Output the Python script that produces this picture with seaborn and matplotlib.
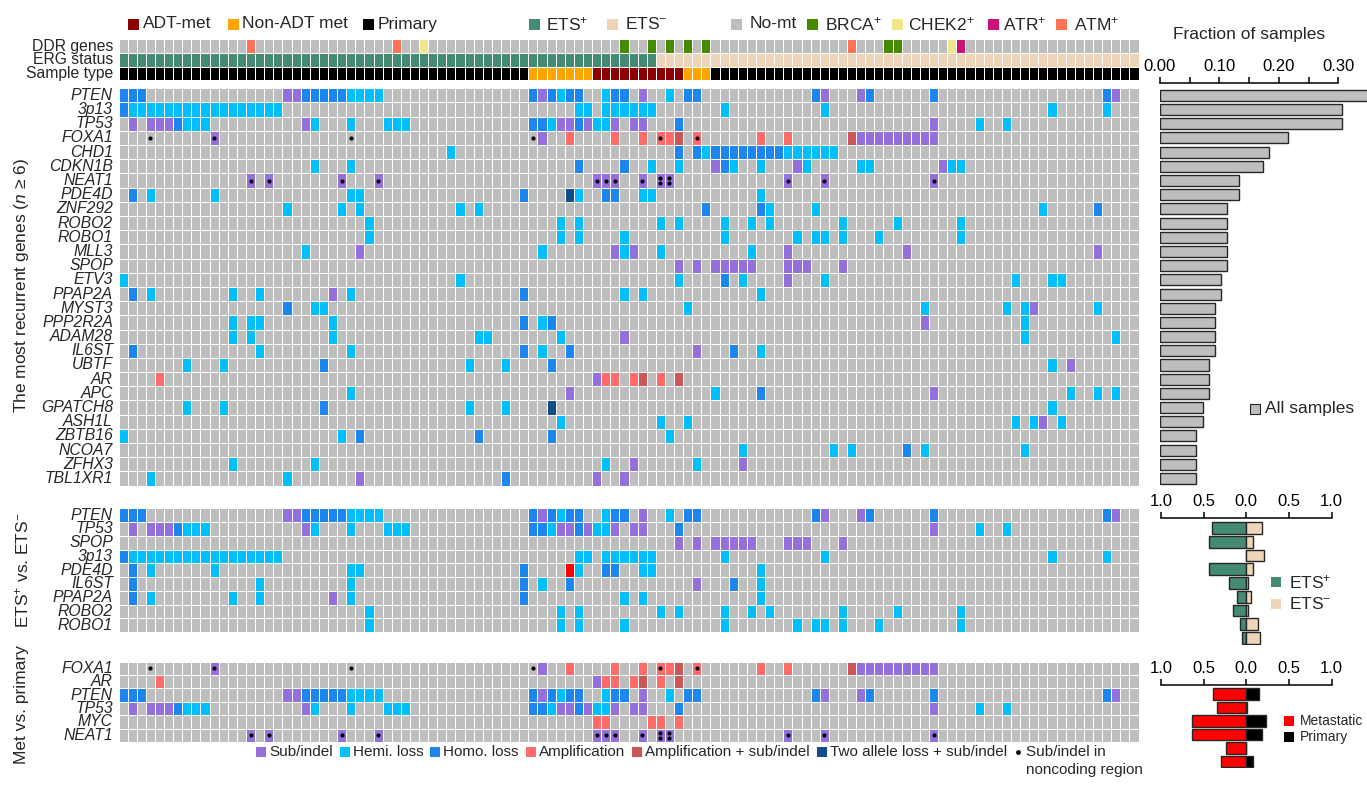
import numpy as np
import pandas as pd
import matplotlib
matplotlib.use("Agg")
import matplotlib.pyplot as plt
from matplotlib.colors import ListedColormap
from matplotlib.patches import Rectangle
import seaborn as sns

sns.set_style("white")
plt.rcParams["font.family"] = ["Liberation Sans", "DejaVu Sans"]
plt.rcParams["mathtext.fontset"] = "custom"
plt.rcParams["mathtext.rm"] = "Liberation Sans"
plt.rcParams["mathtext.it"] = "Liberation Sans:italic"
plt.rcParams["mathtext.bf"] = "Liberation Sans:bold"

N_SAMPLES = 112

# ---------------------------------------------------------------- data
genes = ["PTEN", "3p13", "TP53", "FOXA1", "CHD1", "CDKN1B", "NEAT1", "PDE4D",
         "ZNF292", "ROBO2", "ROBO1", "MLL3", "SPOP", "ETV3", "PPAP2A", "MYST3",
         "PPP2R2A", "ADAM28", "IL6ST", "UBTF", "AR", "APC", "GPATCH8", "ASH1L",
         "ZBTB16", "NCOA7", "ZFHX3", "TBL1XR1"]

# sample columns carrying each alteration type, per gene
sub_indel = {
    "PTEN": [18, 19, 46, 57, 77, 81, 109],
    "TP53": [1, 3, 4, 5, 20, 48, 49, 51, 54, 56, 57, 89],
    "FOXA1": [10, 46, 81, 82, 83, 84, 85, 86, 87, 88, 89],
    "CDKN1B": [65, 74, 90],
    "NEAT1": [14, 16, 24, 28, 52, 53, 54, 57, 59, 60, 73, 77, 89],
    "MLL3": [26, 54, 56, 73, 86, 107],
    "SPOP": [61, 63, 65, 66, 67, 68, 69, 73, 74, 75, 79],
    "ETV3": [73],
    "PPAP2A": [23],
    "MYST3": [100],
    "PPP2R2A": [88],
    "ADAM28": [55],
    "IL6ST": [63],
    "UBTF": [104],
    "AR": [52],
    "APC": [49, 89],
    "ASH1L": [101],
    "ZFHX3": [56, 68],
    "TBL1XR1": [26, 52, 55],
}
hemi_loss = {
    "PTEN": [25, 26, 27, 28, 48, 53, 60],
    "3p13": [1, 2, 3, 4, 5, 6, 7, 8, 9, 10, 11, 12, 13, 14, 15, 16, 17,
             50, 51, 53, 54, 55, 56, 57, 58, 66, 77, 102, 108],
    "TP53": [7, 8, 9, 21, 25, 29, 30, 31, 47, 52, 53, 94, 97],
    "CHD1": [36, 64, 73, 74, 75, 76, 77, 78],
    "CDKN1B": [21, 25, 58, 61, 67, 70, 75, 81, 82, 91, 92],
    "PDE4D": [3, 10, 25, 26, 50, 57, 58, 70],
    "ZNF292": [18, 24, 26, 37, 39, 71, 76, 101],
    "ROBO2": [27, 48, 50, 59, 61, 66, 69, 71, 79, 85, 92],
    "ROBO1": [27, 48, 50, 55, 66, 74, 76, 77, 79, 83, 92],
    "MLL3": [20, 46, 55, 59, 69],
    "ETV3": [0, 37, 61, 68, 77, 98, 102, 103],
    "PPAP2A": [3, 12, 15, 25, 55, 57, 70],
    "MYST3": [21, 22, 62, 88, 97, 99, 107],
    "PPP2R2A": [12, 14, 15, 23, 46, 99],
    "ADAM28": [12, 14, 23, 39, 40, 48, 99, 109],
    "IL6ST": [15, 25, 46, 70],
    "UBTF": [7, 11, 38, 42, 102],
    "APC": [25, 65, 104, 107, 109],
    "GPATCH8": [7, 11, 38, 42, 102],
    "ASH1L": [48, 59, 62, 98, 100, 103],
    "ZBTB16": [0, 24, 60],
    "NCOA7": [68, 78, 80, 88, 99],
    "ZFHX3": [12, 21, 53, 63],
    "TBL1XR1": [3, 18],
}
homo_loss = {
    "PTEN": [0, 1, 2, 20, 21, 22, 23, 24, 45, 47, 49, 50, 54, 55, 62, 63, 76, 82, 89, 108],
    "3p13": [0],
    "TP53": [6, 45, 46, 50, 61],
    "CHD1": [61, 63, 65, 66, 67, 68, 69, 70, 71, 72],
    "CDKN1B": [50, 55, 66],
    "PDE4D": [1, 44, 53, 54],
    "ZNF292": [64, 70, 107],
    "ETV3": [66],
    "PPAP2A": [1, 44],
    "MYST3": [18],
    "PPP2R2A": [44, 47],
    "IL6ST": [1, 44, 49, 67],
    "UBTF": [22, 47],
    "APC": [70],
    "GPATCH8": [22],
    "ZBTB16": [26, 39, 47],
    "NCOA7": [86],
    "TBL1XR1": [42],
}
amplification = {
    "FOXA1": [49, 54, 57, 59, 60, 63, 70, 73],
    "AR": [4, 53, 54, 56, 59],
    "MYC": [52, 53, 58, 59, 61],
}
amp_sub_indel = {"FOXA1": [61, 80], "AR": [57, 61]}
two_allele_loss = {"PDE4D": [49], "GPATCH8": [47]}
noncoding_single = {
    "FOXA1": [3, 10, 25, 45, 59, 63],
    "NEAT1": [14, 16, 24, 28, 52, 53, 54, 57, 73, 77, 89],
}
noncoding_double = {"NEAT1": [59, 60]}

# annotation tracks
ddr_brca = [55, 58, 60, 62, 64, 84, 85]
ddr_chek2 = [33, 91]
ddr_atr = [92]
ddr_atm = [14, 30, 80]
n_ets_positive = 59
sample_blocks = [("Primary", 45), ("Non-ADT met", 7), ("ADT-met", 10),
                 ("Non-ADT met", 3), ("Primary", 47)]

# comparison panels
ets_genes = ["PTEN", "TP53", "SPOP", "3p13", "PDE4D", "IL6ST", "PPAP2A", "ROBO2", "ROBO1"]
ets_highlight = {"PDE4D": [49]}
met_genes = ["FOXA1", "AR", "PTEN", "TP53", "MYC", "NEAT1"]

# fraction bars
frac_all = [0.35, 0.307, 0.307, 0.215, 0.184, 0.174, 0.133, 0.133, 0.113, 0.113,
            0.113, 0.113, 0.113, 0.102, 0.102, 0.092, 0.092, 0.092, 0.092, 0.082,
            0.082, 0.082, 0.072, 0.072, 0.061, 0.061, 0.061, 0.061]
frac_ets_pos = [0.405, 0.44, 0.0, 0.44, 0.203, 0.105, 0.152, 0.07, 0.051]
frac_ets_neg = [0.188, 0.075, 0.211, 0.075, 0.023, 0.059, 0.023, 0.133, 0.156]
frac_met = [0.394, 0.344, 0.637, 0.637, 0.238, 0.30]
frac_primary = [0.145, 0.01, 0.231, 0.188, 0.0, 0.08]

# ---------------------------------------------------------------- colours
palette = {
    "none": "#BEBEBE", "sub": "#9370DB", "hemi": "#00BFFF", "homo": "#1C86EE",
    "amp": "#FF6A6A", "amp_sub": "#CD5555", "two_allele": "#104E8B", "red": "#FF0000",
    "ets_pos": "#458B74", "ets_neg": "#EED5B7", "ADT-met": "#8B0000",
    "Non-ADT met": "#FFA500", "Primary": "#000000", "brca": "#458B00",
    "chek2": "#F0E68C", "atr": "#CD1076", "atm": "#FF7256",
}
keys = list(palette)
code = {k: i for i, k in enumerate(keys)}
cmap = ListedColormap([palette[k] for k in keys])

W, H = 1367, 794
fig = plt.figure(figsize=(W / 100, H / 100), dpi=100)


def px_axes(x0, y0, x1, y1):
    return fig.add_axes([x0 / W, 1 - y1 / H, (x1 - x0) / W, (y1 - y0) / H])


def alteration_matrix(rows, highlight=None):
    m = np.full((len(rows), N_SAMPLES), code["none"])
    for table, key in [(sub_indel, "sub"), (hemi_loss, "hemi"), (homo_loss, "homo"),
                       (amplification, "amp"), (amp_sub_indel, "amp_sub"),
                       (two_allele_loss, "two_allele")]:
        for g, cols in table.items():
            if g in rows:
                m[rows.index(g), cols] = code[key]
    if highlight:
        for g, cols in highlight.items():
            m[rows.index(g), cols] = code["red"]
    return pd.DataFrame(m, index=rows)


def draw_grid(ax, df, italic=True):
    sns.heatmap(df, ax=ax, cmap=cmap, vmin=-0.5, vmax=len(keys) - 0.5, cbar=False,
                linewidths=0.5, linecolor="white", xticklabels=False, yticklabels=True)
    ax.tick_params(axis="y", length=0, pad=4)
    for lab in ax.get_yticklabels():
        lab.set_rotation(0)
        lab.set_fontsize(11.3)
        lab.set_fontstyle("italic" if italic else "normal")
    ax.set_xlabel("")
    ax.set_ylabel("")


def draw_dots(ax, rows):
    for g, cols in noncoding_single.items():
        if g in rows:
            r = rows.index(g)
            ax.scatter(np.array(cols) + 0.5, np.full(len(cols), r + 0.5),
                       s=9, color="black", zorder=5, linewidths=0)
    for g, cols in noncoding_double.items():
        if g in rows:
            r = rows.index(g)
            for dy in (0.3, 0.7):
                ax.scatter(np.array(cols) + 0.5, np.full(len(cols), r + dy),
                           s=9, color="black", zorder=5, linewidths=0)


# ---------------------------------------------------------------- annotation tracks
ddr = np.full(N_SAMPLES, code["none"])
ddr[ddr_brca] = code["brca"]
ddr[ddr_chek2] = code["chek2"]
ddr[ddr_atr] = code["atr"]
ddr[ddr_atm] = code["atm"]
erg = np.array([code["ets_pos"]] * n_ets_positive +
               [code["ets_neg"]] * (N_SAMPLES - n_ets_positive))
stype = np.concatenate([[code[name]] * n for name, n in sample_blocks])
header = pd.DataFrame([ddr, erg, stype], index=["DDR genes", "ERG status", "Sample type"])

ax_head = px_axes(118.5, 39.3, 1138.5, 80.3)
draw_grid(ax_head, header, italic=False)

# ---------------------------------------------------------------- main matrix
ax_main = px_axes(118.5, 88.3, 1138.5, 485.6)
draw_grid(ax_main, alteration_matrix(genes))
draw_dots(ax_main, genes)

ax_ets = px_axes(118.5, 508.3, 1138.5, 632.1)
draw_grid(ax_ets, alteration_matrix(ets_genes, ets_highlight))

ax_met = px_axes(118.5, 661.7, 1138.5, 742.0)
draw_grid(ax_met, alteration_matrix(met_genes))
draw_dots(ax_met, met_genes)

# ---------------------------------------------------------------- fraction bars
EDGE = "#262626"


def style_bar_axis(ax, bound, ticks, labels, outward):
    for s in ("left", "right", "bottom"):
        ax.spines[s].set_visible(False)
    ax.spines["top"].set_visible(True)
    ax.spines["top"].set_bounds(*bound)
    ax.spines["top"].set_position(("outward", outward))
    ax.spines["top"].set_linewidth(1.1)
    ax.spines["top"].set_color("black")
    ax.xaxis.tick_top()
    ax.set_xticks(ticks)
    ax.set_xticklabels(labels)
    ax.tick_params(axis="x", direction="out", length=4.5, width=1.1, pad=2,
                   labelsize=12, colors="black")
    ax.set_yticks([])
    ax.set_xlabel("")
    ax.set_ylabel("")
    ax.patch.set_alpha(0)


ax_bar = px_axes(1160, 88.3, 1367, 485.6)
sns.barplot(x=frac_all, y=genes, order=genes, orient="h", color=palette["none"],
            saturation=1, edgecolor=EDGE, linewidth=1.0, width=0.78, ax=ax_bar)
ax_bar.set_xlim(0, 207 / 594)
ax_bar.set_ylim(len(genes) - 0.5, -0.5)
style_bar_axis(ax_bar, (0, 0.30), [0, 0.05, 0.10, 0.15, 0.20, 0.25, 0.30],
               ["0.00", "", "0.10", "", "0.20", "", "0.30"], 3.6)

x_lo, x_hi = (1150 - 1246.3) / 85.3, (1345 - 1246.3) / 85.3
div_ticks = [-1, -0.5, 0, 0.5, 1]
div_labels = ["1.0", "0.5", "0.0", "0.5", "1.0"]

ax_eb = px_axes(1150, 521.1, 1345, 644.9)
sns.barplot(x=-np.array(frac_ets_pos), y=ets_genes, order=ets_genes, orient="h",
            color=palette["ets_pos"], saturation=1, edgecolor=EDGE, linewidth=1.0,
            width=0.86, ax=ax_eb)
sns.barplot(x=frac_ets_neg, y=ets_genes, order=ets_genes, orient="h",
            color=palette["ets_neg"], saturation=1, edgecolor=EDGE, linewidth=1.0,
            width=0.86, ax=ax_eb)
ax_eb.set_xlim(x_lo, x_hi)
ax_eb.set_ylim(len(ets_genes) - 0.5, -0.5)
style_bar_axis(ax_eb, (-1, 1), div_ticks, div_labels, 2.2)

ax_mb = px_axes(1150, 687.3, 1345, 768.3)
sns.barplot(x=-np.array(frac_met), y=met_genes, order=met_genes, orient="h",
            color=palette["red"], saturation=1, edgecolor=EDGE, linewidth=1.0,
            width=0.86, ax=ax_mb)
sns.barplot(x=frac_primary, y=met_genes, order=met_genes, orient="h",
            color="black", saturation=1, edgecolor=EDGE, linewidth=1.0,
            width=0.86, ax=ax_mb)
ax_mb.set_xlim(x_lo, x_hi)
ax_mb.set_ylim(len(met_genes) - 0.5, -0.5)
style_bar_axis(ax_mb, (-1, 1), div_ticks, div_labels, 1.6)

# ---------------------------------------------------------------- text & legends
over = fig.add_axes([0, 0, 1, 1])
over.set_xlim(0, W)
over.set_ylim(H, 0)
over.axis("off")
over.patch.set_alpha(0)


def key_square(x, y, color, size=11):
    over.add_patch(Rectangle((x, y - size / 2), size, size, facecolor=color,
                             edgecolor="none"))


top_items = [
    (128, 143, "ADT-met", palette["ADT-met"]),
    (228, 242, "Non-ADT met", palette["Non-ADT met"]),
    (363, 378, "Primary", palette["Primary"]),
    (529, 546, "ETS$^{+}$", palette["ets_pos"]),
    (607, 625, "ETS$^{-}$", palette["ets_neg"]),
    (731, 750, "No-mt", palette["none"]),
    (807, 825, "BRCA$^{+}$", palette["brca"]),
    (892, 908, "CHEK2$^{+}$", palette["chek2"]),
    (988, 1003, "ATR$^{+}$", palette["atr"]),
    (1056, 1074, "ATM$^{+}$", palette["atm"]),
]
for sx, tx, label, color in top_items:
    key_square(sx, 24, color)
    over.text(tx, 24, label, fontsize=12.5, va="center", ha="left")

over.text(1249, 35, "Fraction of samples", fontsize=12.5, ha="center", va="center")

over.text(22, 286, "The most recurrent genes ($n$ ≥ 6)", fontsize=12.5,
          rotation=90, ha="center", va="center")
over.text(22, 570, "ETS$^{+}$ vs. ETS$^{-}$", fontsize=12.5, rotation=90,
          ha="center", va="center")
over.text(22, 705, "Met vs. primary", fontsize=12.5, rotation=90,
          ha="center", va="center")

key_square(1250, 409, palette["none"], 10)
over.add_patch(Rectangle((1250, 404), 10, 10, facecolor="none", edgecolor=EDGE, lw=0.8))
over.text(1265, 409, "All samples", fontsize=12.5, va="center", ha="left")

key_square(1271, 582, palette["ets_pos"], 10)
over.text(1289, 582, "ETS$^{+}$", fontsize=12.5, va="center", ha="left")
key_square(1271, 604, palette["ets_neg"], 10)
over.text(1289, 604, "ETS$^{-}$", fontsize=12.5, va="center", ha="left")

key_square(1284, 721, palette["red"], 10)
over.text(1300, 721, "Metastatic", fontsize=10, va="center", ha="left")
key_square(1284, 736.5, "black", 10)
over.text(1300, 736.5, "Primary", fontsize=10, va="center", ha="left")

renderer = fig.canvas.get_renderer()
bottom_items = [("Sub/indel", palette["sub"]), ("Hemi. loss", palette["hemi"]),
                ("Homo. loss", palette["homo"]), ("Amplification", palette["amp"]),
                ("Amplification + sub/indel", palette["amp_sub"]),
                ("Two allele loss + sub/indel", palette["two_allele"])]
bx, by = 256, 752
for label, color in bottom_items:
    key_square(bx, by, color, 10)
    t = over.text(bx + 13, by, label, fontsize=11, va="center", ha="left")
    bx = bx + 13 + t.get_window_extent(renderer=renderer).width + 7
over.scatter([bx + 4], [by], s=12, color="black", linewidths=0)
over.text(bx + 12, by, "Sub/indel in", fontsize=11, va="center", ha="left")
over.text(bx + 12, by + 18, "noncoding region", fontsize=11, va="center", ha="left")

fig.savefig("out.png", dpi=100)
